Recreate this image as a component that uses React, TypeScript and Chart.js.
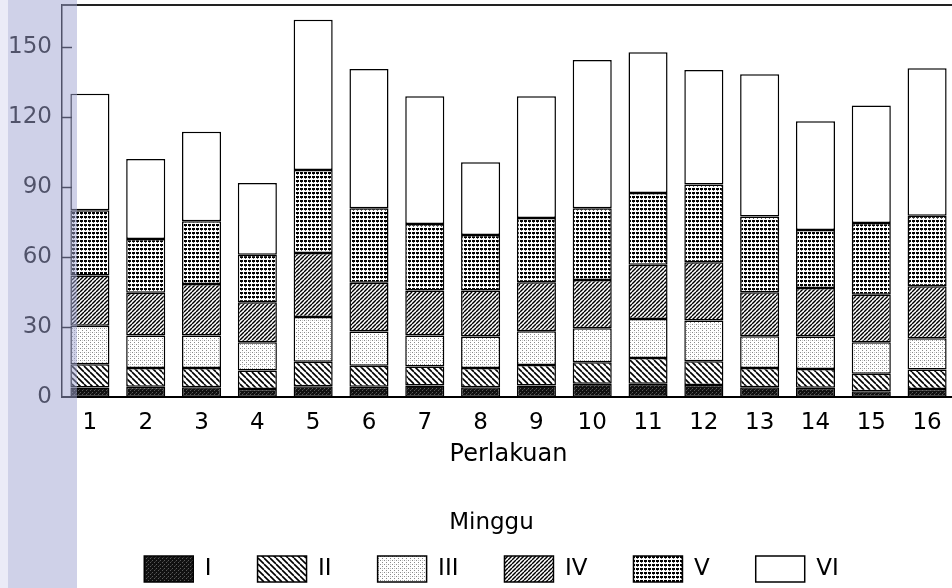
import { useEffect, useRef } from "react";
import { Chart, registerables } from "chart.js";

Chart.register(...registerables);

const categories = ["1", "2", "3", "4", "5", "6", "7", "8", "9", "10", "11", "12", "13", "14", "15", "16"];
const weekLabels = ["I", "II", "III", "IV", "V", "VI"];

const weekI = [4.0, 4.4, 4.1, 3.4, 4.6, 4.4, 4.9, 4.1, 4.9, 5.6, 5.6, 5.1, 4.1, 3.9, 2.4, 3.4];
const weekII = [10.0, 8.0, 8.3, 7.9, 10.5, 9.0, 8.1, 8.3, 8.8, 9.3, 11.1, 10.2, 8.3, 8.1, 7.5, 8.3];
const weekIII = [16.5, 13.9, 13.9, 12.1, 19.1, 14.6, 13.3, 13.5, 14.4, 14.5, 16.7, 17.4, 13.6, 13.9, 13.5, 13.4];
const weekIV = [21.5, 18.3, 22.1, 17.2, 27.5, 20.9, 19.3, 19.7, 21.0, 20.7, 23.3, 25.0, 18.9, 20.8, 20.4, 22.3];
const weekV = [28.0, 23.1, 26.9, 20.3, 35.6, 32.0, 28.5, 23.8, 27.6, 30.8, 30.7, 33.3, 32.4, 24.9, 30.8, 30.3];
const weekVI = [50.0, 34.3, 38.4, 30.8, 64.4, 59.7, 54.8, 31.2, 52.2, 63.5, 60.3, 49.1, 61.0, 46.6, 50.3, 63.2];

const yTickValues = [0, 30, 60, 90, 120, 150];
const yMax = 168;

function makePattern(kind: string): CanvasPattern | string {
  const c = document.createElement("canvas");
  const ctx = c.getContext("2d")!;
  if (kind === "I") {
    c.width = 4; c.height = 4;
    ctx.fillStyle = "#111";
    ctx.fillRect(0, 0, 4, 4);
    ctx.fillStyle = "#5a5a5a";
    ctx.fillRect(0, 0, 1, 1);
    ctx.fillRect(2, 2, 1, 1);
    ctx.fillStyle = "#333";
    ctx.fillRect(3, 1, 1, 1);
  } else if (kind === "II") {
    const s = 6;
    c.width = s; c.height = s;
    ctx.fillStyle = "#fff";
    ctx.fillRect(0, 0, s, s);
    ctx.strokeStyle = "#000";
    ctx.lineWidth = 1.6;
    for (let k = -1; k <= 1; k++) {
      ctx.beginPath();
      ctx.moveTo(k * s, 0);
      ctx.lineTo(k * s + s, s);
      ctx.stroke();
    }
  } else if (kind === "III") {
    c.width = 4; c.height = 4;
    ctx.fillStyle = "#fff";
    ctx.fillRect(0, 0, 4, 4);
    ctx.fillStyle = "#8a8a8a";
    ctx.fillRect(0, 0, 1, 1);
    ctx.fillRect(2, 2, 1, 1);
    ctx.fillStyle = "#c8c8c8";
    ctx.fillRect(2, 0, 1, 1);
  } else if (kind === "IV") {
    const s = 4;
    c.width = s; c.height = s;
    ctx.fillStyle = "#fff";
    ctx.fillRect(0, 0, s, s);
    ctx.strokeStyle = "#000";
    ctx.lineWidth = 1.4;
    for (let k = -1; k <= 1; k++) {
      ctx.beginPath();
      ctx.moveTo(k * s, s);
      ctx.lineTo(k * s + s, 0);
      ctx.stroke();
    }
  } else if (kind === "V") {
    c.width = 4; c.height = 4;
    ctx.fillStyle = "#fff";
    ctx.fillRect(0, 0, 4, 4);
    ctx.fillStyle = "#000";
    ctx.fillRect(0, 0, 3, 2);
    ctx.fillStyle = "#666";
    ctx.fillRect(1, 2, 1, 1);
  } else {
    return "#ffffff";
  }
  return ctx.createPattern(c, "repeat")!;
}

export default function App() {
  const ref = useRef<HTMLCanvasElement | null>(null);

  useEffect(() => {
    if (!ref.current) return;
    Chart.defaults.font.family = "'DejaVu Sans', sans-serif";
    const series = [weekI, weekII, weekIII, weekIV, weekV, weekVI];

    const datasets = weekLabels.map((lbl, i) => ({
      label: lbl,
      data: series[i],
      backgroundColor: makePattern(lbl),
      borderColor: "#000",
      borderWidth: 1.5,
      borderSkipped: false as const,
      barPercentage: 0.7,
      categoryPercentage: 1.0,
    }));

    const decor = {
      id: "decor",
      afterLayout(chart: any) {
        const lg = chart.legend;
        if (lg) {
          lg.left += 14;
          lg.right += 14;
        }
      },
      afterDatasetsDraw(chart: any) {
        const { ctx, chartArea } = chart;
        const y = chart.scales.y;
        ctx.save();
        ctx.strokeStyle = "#222";
        ctx.lineWidth = 2;
        ctx.beginPath();
        ctx.moveTo(chartArea.left, chartArea.top);
        ctx.lineTo(chartArea.right + 10, chartArea.top);
        ctx.stroke();
        ctx.lineWidth = 1.5;
        ctx.strokeStyle = "#000";
        y.ticks.forEach((t: any) => {
          if (t.value === 0) return;
          const py = Math.round(y.getPixelForValue(t.value)) + 0.5;
          ctx.beginPath();
          ctx.moveTo(chartArea.left, py);
          ctx.lineTo(chartArea.left + 10, py);
          ctx.stroke();
        });
        ctx.restore();
      },
      afterDraw(chart: any) {
        const { ctx, height } = chart;
        ctx.save();
        ctx.fillStyle = "rgba(160,164,210,0.5)";
        ctx.fillRect(8, 0, 69, height);
        ctx.fillStyle = "rgba(190,190,228,0.3)";
        ctx.fillRect(0, 0, 8, height);
        ctx.restore();
      },
    };

    const chart = new Chart(ref.current, {
      type: "bar",
      data: { labels: categories, datasets },
      options: {
        animation: false,
        responsive: false,
        maintainAspectRatio: false,
        layout: { padding: { top: 5, right: 5, left: 0, bottom: 0 } },
        plugins: {
          tooltip: { enabled: false },
          legend: {
            position: "bottom",
            align: "center",
            labels: {
              boxWidth: 49,
              boxHeight: 26,
              padding: 46,
              color: "#000",
              font: { size: 23 },
            },
            title: {
              display: true,
              text: "Minggu",
              color: "#000",
              font: { size: 23 },
              padding: { top: 0, bottom: -29 },
            },
          },
        },
        scales: {
          x: {
            stacked: true,
            grid: { display: false, drawTicks: false },
            border: { display: true, color: "#000", width: 2 },
            ticks: { color: "#000", font: { size: 23 }, padding: 12, maxRotation: 0, autoSkip: false },
            title: {
              display: true,
              text: "Perlakuan",
              color: "#000",
              font: { size: 24 },
              padding: { top: 0, bottom: 42.2 },
            },
            afterFit: (s: any) => {
              s.height = 114.5;
              s.paddingLeft = 0;
              s.paddingRight = 0;
            },
          },
          y: {
            stacked: true,
            min: 0,
            max: yMax,
            grid: { display: false, drawTicks: false },
            border: { display: true, color: "#000", width: 1.5 },
            ticks: {
              color: "#000",
              font: { size: 23 },
              padding: 10,
              stepSize: 30,
              includeBounds: false,
              callback: (v: any) => (yTickValues.includes(Number(v)) ? String(v) : ""),
            },
            afterFit: (s: any) => {
              s.width = 62;
              s.paddingTop = 0;
              s.paddingBottom = 0;
            },
          },
        },
      },
      plugins: [decor],
    });
    return () => chart.destroy();
  }, []);

  return (
    <div style={{ position: "fixed", left: 0, top: 0, width: 952, height: 588, overflow: "hidden", background: "#fff" }}>
      <canvas ref={ref} width={960} height={592} style={{ display: "block" }} />
    </div>
  );
}
